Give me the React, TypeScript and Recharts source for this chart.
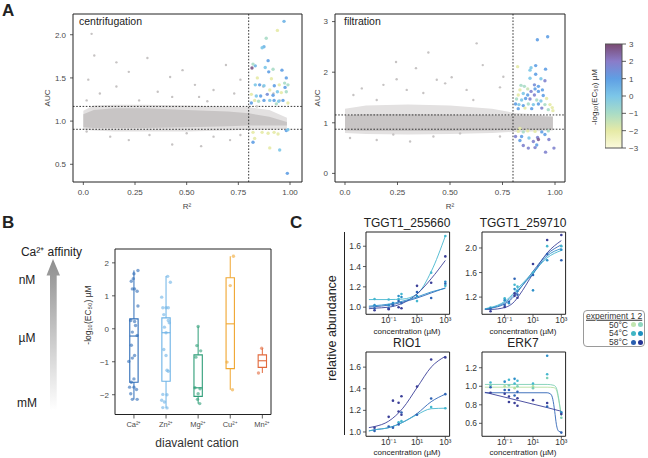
import React from 'react';
import {
  Area,
  ComposedChart,
  Line,
  ReferenceArea,
  ReferenceLine,
  Scatter,
  XAxis,
  YAxis,
} from 'recharts';

const FONT = "'Liberation Sans', Arial, Helvetica, sans-serif";

// ---------- panel A : AUC vs R² ----------
// [x, y, -log10(EC50)]
const centColored = [
  [0.971, 2.155, 0.5], [0.939, 2.05, -2], [0.885, 1.96, -1], [0.874, 1.86, 0.5], [0.865, 1.85, 0],
  [0.894, 1.7, 1], [0.832, 1.64, 0.5], [0.821, 1.66, -1], [0.816, 1.615, 2.8], [0.88, 1.62, 0],
  [0.897, 1.57, 1], [0.918, 1.6, -1], [0.961, 1.59, 1], [0.982, 1.5, 1], [0.842, 1.5, -2],
  [0.91, 1.49, -2], [0.974, 1.44, -1], [0.832, 1.42, 0], [0.853, 1.42, 1], [0.874, 1.41, 0],
  [0.924, 1.41, 1], [0.948, 1.42, -2], [0.976, 1.39, 1], [0.99, 1.42, -1], [0.902, 1.36, -2],
  [0.939, 1.34, 0], [0.813, 1.31, -2], [0.837, 1.29, 0], [0.858, 1.29, 1], [0.89, 1.31, 1.5],
  [0.918, 1.3, 1], [0.958, 1.33, -2], [0.982, 1.34, -1], [0.829, 1.24, -2], [0.848, 1.23, -1],
  [0.874, 1.24, 1], [0.902, 1.24, 0], [0.923, 1.24, 1], [0.945, 1.23, 0], [0.966, 1.24, 1],
  [0.813, 1.21, 1], [0.934, 1.2, -1], [0.99, 1.21, -2], [0.821, 0.87, -2], [0.865, 0.87, -2],
  [0.894, 0.86, -2], [0.923, 0.87, -2], [0.942, 0.85, -2], [0.982, 0.89, 1], [0.99, 0.9, 0],
  [0.829, 0.8, -2], [0.821, 0.755, 1], [0.902, 0.69, -2], [0.95, 0.665, 0], [0.987, 0.395, 1],
];

const filtColored = [
  [0.965, 2.7, 1], [0.916, 2.64, 1], [0.822, 2.11, -2], [0.908, 2.13, 1], [0.886, 2.09, 0],
  [0.881, 2.04, 0], [0.955, 2.06, 1], [0.908, 1.96, 1], [0.933, 1.87, 0], [0.952, 1.83, 1.8],
  [0.881, 1.88, 0], [0.838, 1.74, -1], [0.854, 1.72, -1], [0.902, 1.75, 1.5], [0.921, 1.72, 1],
  [0.87, 1.67, -1.5], [0.905, 1.67, 1], [0.833, 1.65, -2], [0.886, 1.62, 1.8], [0.921, 1.62, 1],
  [0.94, 1.65, 1], [0.849, 1.58, 0], [0.87, 1.55, 1], [0.825, 1.55, -2], [0.902, 1.55, 1.8],
  [0.944, 1.54, 1], [0.817, 1.47, -1], [0.841, 1.45, 0], [0.86, 1.48, 1], [0.881, 1.47, 1.8],
  [0.913, 1.45, -1], [0.933, 1.43, 0], [0.96, 1.48, -2], [0.812, 1.37, 1], [0.828, 1.36, 0],
  [0.849, 1.34, 1], [0.873, 1.37, -1], [0.897, 1.36, 0], [0.921, 1.37, 1], [0.952, 1.36, -1],
  [0.976, 1.36, -2], [0.987, 1.3, -2], [0.825, 1.28, 1], [0.857, 1.29, -2], [0.889, 1.28, 1],
  [0.937, 1.29, 1.8], [0.968, 1.26, -1], [0.99, 1.24, -2], [0.825, 0.83, -2], [0.849, 0.82, -1],
  [0.87, 0.84, -2], [0.905, 0.83, -2], [0.937, 0.82, 1], [0.968, 0.84, -1], [0.812, 0.73, 1.8],
  [0.841, 0.73, 1], [0.876, 0.7, 0], [0.917, 0.71, 1.8], [0.952, 0.77, 1], [0.833, 0.65, 1],
  [0.897, 0.63, 1.8], [0.921, 0.67, 2.6], [0.971, 0.67, 1.8], [0.849, 0.55, 1.8], [0.913, 0.56, 1],
  [0.873, 0.5, 1.8], [0.905, 0.51, 1.8], [0.995, 0.5, 1.8], [0.955, 0.42, 1.8], [0.833, 0.89, -2],
];

// sparse grey proteins outside the dense band, [x, y]
const centGrey = [
  [0.04, 2.01], [0.053, 1.76], [0.16, 1.68], [0.31, 1.73], [0.024, 1.48], [0.22, 1.57], [0.48, 1.59],
  [0.42, 1.51], [0.54, 1.42], [0.69, 1.65], [0.76, 1.48], [0.56, 1.28], [0.36, 1.34], [0.08, 1.32],
  [0.016, 1.24], [0.27, 1.24], [0.63, 1.36], [0.73, 1.32], [0.43, 1.28], [0.16, 1.4], [0.22, 0.78],
  [0.43, 0.73], [0.57, 0.71], [0.13, 0.82], [0.71, 0.78], [0.016, 0.88], [0.32, 0.84], [0.63, 0.82],
  [0.76, 0.84], [0.5, 0.86], [0.84, 1.17], [0.92, 1.32], [0.87, 1.4], [0.95, 1.24], [0.6, 1.23],
];

const filtGrey = [
  [0.627, 2.57], [0.397, 2.39], [0.243, 2.2], [0.338, 2.08], [0.656, 2.14], [0.508, 1.9], [0.437, 1.85],
  [0.246, 1.86], [0.294, 1.65], [0.477, 1.78], [0.754, 1.91], [0.738, 1.7], [0.579, 1.65], [0.08, 1.68],
  [0.04, 1.55], [0.183, 1.75], [0.373, 1.59], [0.151, 1.45], [0.611, 1.45], [0.151, 0.66], [0.31, 0.63],
  [0.421, 0.73], [0.024, 0.7], [0.548, 0.79], [0.738, 0.73], [0.23, 0.77],
];

// dense band of unaffected proteins: [x, lowHalo, highHalo, lowCore, highCore]
const centBand = [
  [0, 0.9, 1.12, 0.93, 1.08], [0.05, 0.89, 1.18, 0.92, 1.13], [0.15, 0.88, 1.19, 0.92, 1.15],
  [0.3, 0.88, 1.19, 0.92, 1.15], [0.5, 0.88, 1.18, 0.93, 1.13], [0.7, 0.89, 1.17, 0.94, 1.11],
  [0.8, 0.9, 1.16, 0.95, 1.09], [0.9, 0.9, 1.13, 0.95, 1.05], [0.985, 0.91, 1.04, 0.95, 0.99],
];
const filtBand = [
  [0, 0.8, 1.28, 0.85, 1.15], [0.1, 0.78, 1.34, 0.84, 1.17], [0.3, 0.77, 1.36, 0.84, 1.17],
  [0.5, 0.78, 1.34, 0.84, 1.16], [0.7, 0.8, 1.28, 0.85, 1.15], [0.8, 0.82, 1.2, 0.86, 1.14],
  [0.9, 0.83, 1.17, 0.86, 1.14], [0.99, 0.85, 1.13, 0.87, 1.12],
];

const r2Ticks = [0, 0.25, 0.5, 0.75, 1];
const cbTicks = [-3, -2, -1, 0, 1, 2, 3];
const cbStops: [number, string][] = [
  [-3, '#fbfadc'], [-2, '#e6eaa6'], [-1, '#a9dcc6'], [0, '#7cc6e8'],
  [1, '#5f9fe4'], [2, '#8a7cc9'], [3, '#7a4a72'],
];

// ---------- panel B : boxplots ----------
const cations = ['Ca²⁺', 'Zn²⁺', 'Mg²⁺', 'Cu²⁺', 'Mn²⁺'];
const cationColors = ['#2f6db8', '#6cb2e6', '#2f9e78', '#f0a630', '#e2693c'];
// [min, q1, median, q3, max]
const cationBoxes = [
  [-2.14, -1.62, -0.22, 0.3, 1.77],
  [-2.4, -1.59, -0.12, 0.33, 1.6],
  [-2.27, -2.05, -1.79, -0.79, 0.07],
  [-1.85, -1.21, 0.15, 1.55, 2.2],
  [-1.34, -1.17, -0.97, -0.79, -0.59],
];
// [jitter offset, value]
const caPts = [
  [0.125, 1.77], [0, 1.67], [-0.083, 1.44], [-0.02, 1.52], [-0.05, 1.21], [0.02, 1.21], [0.1, 1.14],
  [0.125, 0.69], [-0.1, 0.25], [0.02, 0.22], [0.05, 0.1], [-0.05, -0.1], [0.1, -0.2], [-0.08, -0.5],
  [0.02, -0.81], [-0.16, -0.99], [-0.05, -0.89], [0, -1.52], [-0.08, -1.62], [-0.135, -1.77],
  [0, -1.77], [0.08, -1.84], [-0.1, -1.97], [-0.05, -2.14], [0.1, -2.14],
];
const znPts = [
  [0.05, 1.59], [0.135, 1.41], [-0.135, 0.96], [-0.1, 0.64], [0, 0.64], [0.07, 0.64], [-0.07, 0.43],
  [0.07, 0.25], [0.1, 0.18], [-0.05, 0.05], [0, -0.12], [-0.07, -0.63], [0, -0.81], [0.03, -1.26],
  [0.07, -1.29], [-0.1, -1.99], [0.03, -2.0], [-0.135, -2.17], [-0.05, -2.22], [-0.1, -2.39], [0.03, -2.4],
];
const mgPts = [
  [0, 0.07], [-0.04, -0.51], [0.08, -0.67], [-0.07, -0.86], [-0.1, -1.79], [0.06, -1.82], [0, -1.97],
  [-0.02, -2.14], [0.05, -2.27],
];
const cuPts = [[0.1, 2.2], [0, 1.31], [-0.1, -1.01], [0.07, -1.85]];
const mnPts = [[-0.02, -0.59], [-0.12, -1.34]];
const cationPts = [caPts, znPts, mgPts, cuPts, mnPts];

// ---------- panel C : dose response ----------
const seriesColors: Record<string, string> = {
  a50: '#b5dfa0', b50: '#7dcfb6', a54: '#45b7cf', b54: '#2c8fc9', a58: '#2f64b5', b58: '#3b3f98',
};
const concTicks = [0.1, 10, 1000];

const tgg255Pts: [number, number, string][] = [
  [0.01, 1.08, 'a54'], [0.01, 1.02, 'b54'], [0.01, 0.99, 'a58'], [0.01, 0.97, 'b58'],
  [0.1, 1.075, 'a54'], [0.1, 1.02, 'b54'], [0.1, 0.99, 'a58'], [0.1, 0.98, 'b58'],
  [0.2, 1.04, 'b54'], [0.2, 1.02, 'a58'],
  [0.5, 1.11, 'b54'], [0.5, 1.08, 'a54'], [0.5, 1.06, 'a58'], [0.5, 1.0, 'b58'],
  [0.8, 1.13, 'a54'], [0.8, 1.1, 'b54'], [0.8, 1.04, 'a58'], [0.8, 0.99, 'b58'],
  [10, 1.21, 'b58'], [10, 1.15, 'a58'], [10, 1.11, 'b54'], [10, 1.06, 'a54'],
  [100, 1.34, 'a54'], [100, 1.24, 'b58'], [100, 1.09, 'a58'],
  [1000, 1.7, 'a54'], [1000, 1.5, 'b58'], [1000, 1.25, 'b54'], [1000, 1.23, 'a58'], [1000, 1.21, 'a54'],
];
const tgg255Fits: { s: string; pts: number[][] }[] = [
  { s: 'a54', pts: [[0.004, 1.075], [0.01, 1.075], [0.1, 1.075], [1, 1.08], [10, 1.13], [100, 1.35], [1000, 1.7]] },
  { s: 'b58', pts: [[0.004, 0.985], [0.01, 0.99], [0.1, 1.0], [1, 1.04], [10, 1.13], [100, 1.28], [1000, 1.46]] },
  { s: 'a58', pts: [[0.004, 1.0], [0.01, 1.005], [0.1, 1.02], [1, 1.05], [10, 1.09], [100, 1.14], [1000, 1.19]] },
  { s: 'b54', pts: [[0.004, 1.01], [0.01, 1.015], [0.1, 1.03], [1, 1.06], [10, 1.1], [100, 1.15], [1000, 1.185]] },
];

const tgg259Pts: [number, number, string][] = [
  [0.01, 1.03, 'a54'], [0.01, 1.01, 'a58'], [0.01, 0.97, 'b58'],
  [0.1, 1.18, 'a54'], [0.1, 1.15, 'b54'], [0.1, 1.07, 'a58'], [0.1, 1.04, 'b58'],
  [0.2, 1.12, 'a58'], [0.2, 1.1, 'b54'],
  [0.5, 1.5, 'a58'], [0.5, 1.4, 'a54'], [0.5, 1.33, 'b54'], [0.5, 1.26, 'b58'], [0.5, 1.22, 'b58'],
  [0.8, 1.37, 'a54'], [0.8, 1.3, 'b54'], [0.8, 1.24, 'a58'], [0.8, 1.19, 'b58'],
  [10, 1.74, 'b58'], [10, 1.6, 'a54'], [10, 1.56, 'a58'], [10, 1.31, 'b54'],
  [100, 2.13, 'b58'], [100, 2.03, 'a54'], [100, 1.9, 'a58'], [100, 1.8, 'b54'],
  [1000, 2.21, 'b58'], [1000, 2.03, 'a54'], [1000, 1.97, 'b54'], [1000, 1.8, 'a58'],
];
const tgg259Fits: { s: string; pts: number[][] }[] = [
  { s: 'b58', pts: [[0.004, 1.0], [0.01, 1.0], [0.1, 1.03], [0.5, 1.13], [1, 1.22], [10, 1.58], [100, 1.92], [1000, 2.12]] },
  { s: 'a58', pts: [[0.004, 1.01], [0.01, 1.02], [0.1, 1.09], [0.5, 1.22], [1, 1.31], [10, 1.62], [100, 1.9], [1000, 2.05]] },
  { s: 'a54', pts: [[0.004, 1.01], [0.01, 1.03], [0.1, 1.13], [0.5, 1.28], [1, 1.36], [10, 1.6], [100, 1.84], [1000, 1.96]] },
  { s: 'b54', pts: [[0.004, 1.0], [0.01, 1.02], [0.1, 1.11], [0.5, 1.25], [1, 1.33], [10, 1.58], [100, 1.87], [1000, 1.99]] },
];

const rio1Pts: [number, number, string][] = [
  [0.01, 1.04, 'b58'], [0.01, 1.01, 'a58'], [0.1, 1.14, 'b58'], [0.1, 1.05, 'a58'],
  [0.2, 1.29, 'b58'], [0.2, 1.04, 'a58'],
  [0.5, 1.27, 'b58'], [0.5, 1.09, 'a54'], [0.5, 1.07, 'a58'], [0.5, 1.19, 'b58'],
  [0.8, 1.33, 'b58'], [0.8, 1.18, 'a58'], [0.8, 1.1, 'a54'], [0.8, 1.16, 'b58'],
  [10, 1.42, 'b58'], [10, 1.16, 'a58'],
  [100, 1.67, 'b58'], [100, 1.31, 'a58'], [100, 1.23, 'a54'],
  [1000, 1.69, 'b58'], [1000, 1.35, 'a58'], [1000, 1.22, 'a54'],
];
const rio1Fits: { s: string; pts: number[][] }[] = [
  { s: 'b58', pts: [[0.004, 1.04], [0.01, 1.05], [0.1, 1.1], [1, 1.22], [10, 1.41], [100, 1.6], [1000, 1.7]] },
  { s: 'a58', pts: [[0.004, 1.01], [0.01, 1.02], [0.1, 1.04], [1, 1.09], [10, 1.17], [100, 1.28], [1000, 1.35]] },
  { s: 'a54', pts: [[0.004, 1.01], [0.01, 1.02], [0.1, 1.04], [1, 1.09], [10, 1.16], [100, 1.215], [1000, 1.22]] },
];

const erk7Pts: [number, number, string][] = [
  [0.01, 1.04, 'a54'], [0.01, 1.01, 'b50'], [0.01, 0.99, 'a58'], [0.01, 0.93, 'b58'],
  [0.1, 1.05, 'b54'], [0.1, 1.0, 'a50'], [0.1, 0.96, 'a58'], [0.1, 0.92, 'b58'],
  [0.2, 1.07, 'a54'], [0.2, 1.01, 'b50'], [0.2, 0.96, 'a58'], [0.2, 0.89, 'b58'], [0.2, 0.83, 'b58'],
  [0.5, 1.08, 'b54'], [0.5, 1.03, 'a54'], [0.5, 0.98, 'a50'], [0.5, 0.9, 'a58'], [0.5, 0.82, 'b58'],
  [0.8, 1.06, 'a54'], [0.8, 1.0, 'b50'], [0.8, 0.94, 'a58'], [0.8, 0.87, 'b58'], [0.8, 0.79, 'b58'],
  [10, 1.03, 'a54'], [10, 1.0, 'a50'], [10, 0.98, 'b50'], [10, 0.85, 'b58'],
  [100, 1.33, 'b54'], [100, 1.13, 'a54'], [100, 1.09, 'b50'], [100, 0.82, 'b58'], [100, 0.78, 'a58'],
  [1000, 0.72, 'b54'], [1000, 0.7, 'b58'], [1000, 0.66, 'b50'], [1000, 0.5, 'a58'],
];
const erk7Fits: { s: string; pts: number[][] }[] = [
  { s: 'a50', pts: [[0.004, 0.99], [0.01, 0.99], [1, 0.99], [100, 0.99], [300, 0.985], [450, 0.96], [600, 0.88], [800, 0.77], [1000, 0.68]] },
  { s: 'b50', pts: [[0.004, 1.02], [0.01, 1.02], [1, 1.02], [100, 1.02], [300, 1.01], [450, 0.98], [600, 0.9], [800, 0.78], [1000, 0.68]] },
  { s: 'a58', pts: [[0.004, 0.93], [0.01, 0.93], [1, 0.93], [100, 0.93], [180, 0.915], [250, 0.86], [340, 0.73], [445, 0.59], [650, 0.515], [1000, 0.505]] },
  { s: 'b58', pts: [[0.004, 0.935], [0.01, 0.92], [1, 0.845], [100, 0.77], [1000, 0.73]] },
];

const legendRows = [
  { label: '50°C', c1: '#c2e6b0', c2: '#8ed6bf' },
  { label: '54°C', c1: '#41b6c4', c2: '#1d91c0' },
  { label: '58°C', c1: '#2a5fb0', c2: '#253494' },
];

// ---------- helpers ----------
function hexRgb(h: string) {
  const n = parseInt(h.slice(1), 16);
  return [(n >> 16) & 255, (n >> 8) & 255, n & 255];
}
function colorFor(v: number) {
  const c = Math.max(-3, Math.min(3, v));
  for (let i = 0; i < cbStops.length - 1; i++) {
    const [v0, h0] = cbStops[i];
    const [v1, h1] = cbStops[i + 1];
    if (c >= v0 && c <= v1) {
      const t = (c - v0) / (v1 - v0);
      const a = hexRgb(h0);
      const b = hexRgb(h1);
      return `rgb(${a.map((x, k) => Math.round(x + (b[k] - x) * t)).join(',')})`;
    }
  }
  return cbStops[0][1];
}
const minus = (v: number) => (v < 0 ? `−${Math.abs(v)}` : `${v}`);
const supMap: Record<string, string> = { '-': '⁻', '0': '⁰', '1': '¹', '2': '²', '3': '³' };
const powTen = (v: number) => `10${String(Math.round(Math.log10(v))).split('').map((c) => supMap[c]).join('')}`;

const tickA = { fontSize: 8, fill: '#4a4a4a', fontFamily: FONT };
const tickC = { fontSize: 8.5, fill: '#333', fontFamily: FONT };
const tickLine = { stroke: '#333', strokeWidth: 0.8 };
const dotted = { stroke: '#222', strokeWidth: 0.9, strokeDasharray: '1.6 1.6' };

type Frame = { L: number; T: number; W: number; H: number };

function Plot({ f, yw, xh, data, children }: { f: Frame; yw: number; xh: number; data?: any[]; children: React.ReactNode }) {
  return (
    <div style={{ position: 'absolute', left: f.L - yw, top: f.T - 2 }}>
      <ComposedChart
        width={yw + f.W + 4}
        height={f.H + xh + 2}
        data={data}
        margin={{ top: 2, right: 4, left: 0, bottom: 0 }}
      >
        {children}
      </ComposedChart>
    </div>
  );
}

function Txt({ x, y, size, children, rotate, weight, color, anchor }: {
  x: number; y: number; size: number; children: React.ReactNode; rotate?: boolean; weight?: number; color?: string; anchor?: 'left' | 'center' | 'right';
}) {
  const tx = anchor === 'left' ? '0' : anchor === 'right' ? '-100%' : '-50%';
  return (
    <div
      style={{
        position: 'absolute', left: x, top: y, fontSize: size, fontWeight: weight ?? 400, color: color ?? '#222',
        whiteSpace: 'nowrap', lineHeight: 1, transform: `translate(${tx}, -50%)${rotate ? ' rotate(-90deg)' : ''}`,
        transformOrigin: rotate ? 'center' : undefined,
      }}
    >
      {children}
    </div>
  );
}

const greyDot = (p: any) => <circle cx={p.cx} cy={p.cy} r={1.2} fill="#c6c3c3" />;
const ecDot = (p: any) => <circle cx={p.cx} cy={p.cy} r={1.7} fill={colorFor(p.payload.c)} fillOpacity={0.9} />;

function AucPanel({ f, xDom, yDom, yTicks, yFmt, band, grey, colored, hi, lo }: any) {
  const bandData = band.map((b: number[]) => ({ x: b[0], halo: [b[1], b[2]], core: [b[3], b[4]] }));
  return (
    <Plot f={f} yw={30} xh={22} data={bandData}>
      <XAxis dataKey="x" type="number" domain={xDom} allowDataOverflow ticks={r2Ticks} interval={0}
        tickFormatter={(v: number) => (v === 0 ? '0.0' : v.toFixed(2))} axisLine={false} tickLine={tickLine}
        tickSize={3} tickMargin={4} tick={tickA} height={22} />
      <YAxis dataKey="y" type="number" domain={yDom} allowDataOverflow ticks={yTicks} interval={0}
        tickFormatter={yFmt} axisLine={false} tickLine={tickLine} tickSize={3} tickMargin={4} tick={tickA} width={30} />
      <Area dataKey="halo" type="linear" stroke="none" fill="#e3e1e1" fillOpacity={1} isAnimationActive={false} />
      <Area dataKey="core" type="linear" stroke="none" fill="#c8c5c5" fillOpacity={1} isAnimationActive={false} />
      <Scatter data={grey.map(([x, y]: number[]) => ({ x, y }))} shape={greyDot} isAnimationActive={false} />
      <ReferenceLine y={hi} {...dotted} />
      <ReferenceLine y={lo} {...dotted} />
      <ReferenceLine x={0.8} {...dotted} />
      <Scatter data={colored.map(([x, y, c]: number[]) => ({ x, y, c }))} shape={ecDot} isAnimationActive={false} />
      <ReferenceArea x1={xDom[0]} x2={xDom[1]} y1={yDom[0]} y2={yDom[1]} fill="none" stroke="#222" strokeWidth={1} ifOverflow="visible" />
    </Plot>
  );
}

function DosePanel({ f, yDom, yTicks, pts, fits }: any) {
  const xDom = [0.0025, 2000];
  return (
    <Plot f={f} yw={22} xh={12}>
      <XAxis dataKey="x" type="number" scale="log" domain={xDom} allowDataOverflow ticks={concTicks} interval={0}
        tickFormatter={powTen} axisLine={false} tickLine={tickLine} tickSize={2.5} tickMargin={0} tick={tickC} height={12} />
      <YAxis dataKey="y" type="number" domain={yDom} allowDataOverflow ticks={yTicks} interval={0}
        tickFormatter={(v: number) => v.toFixed(1)} axisLine={false} tickLine={tickLine} tickSize={3} tickMargin={2} tick={tickC} width={22} />
      {fits.map((fit: any, i: number) => (
        <Line key={i} data={fit.pts.map(([x, y]: number[]) => ({ x, y }))} dataKey="y" type="monotone"
          stroke={seriesColors[fit.s]} strokeWidth={0.9} dot={false} isAnimationActive={false} />
      ))}
      <Scatter data={pts.map(([x, y, s]: any[]) => ({ x, y, s }))} isAnimationActive={false}
        shape={(p: any) => <circle cx={p.cx} cy={p.cy} r={1.3} fill={seriesColors[p.payload.s]} />} />
      <ReferenceArea x1={xDom[0]} x2={xDom[1]} y1={yDom[0]} y2={yDom[1]} fill="none" stroke="#222" strokeWidth={1} ifOverflow="visible" />
    </Plot>
  );
}

export default function App() {
  const A1: Frame = { L: 73, T: 14, W: 229, H: 168 };
  const A2: Frame = { L: 335, T: 14, W: 230, H: 168 };
  const CB: Frame = { L: 605, T: 44, W: 17, H: 104 };
  const B: Frame = { L: 114.5, T: 248.5, W: 156, H: 165.5 };
  const C1: Frame = { L: 365.7, T: 231.7, W: 83.6, H: 82.3 };
  const C2: Frame = { L: 481.7, T: 231.7, W: 83.6, H: 82.3 };
  const C3: Frame = { L: 365.7, T: 351.7, W: 83.6, H: 84.3 };
  const C4: Frame = { L: 481.7, T: 351.7, W: 83.6, H: 84.3 };
  const bDom = [-2.6, 2.42];
  const cbRange = [{ x: 0, y: -3 }, { x: 1, y: 3 }];

  return (
    <div style={{ position: 'absolute', left: 0, top: 0, width: 648, height: 458, background: '#fff', fontFamily: FONT, overflow: 'hidden' }}>
      {/* ---- A ---- */}
      <Txt x={2} y={10} size={17} weight={700} anchor="left">A</Txt>
      <AucPanel f={A1} xDom={[-0.05, 1.058]} yDom={[0.295, 2.24]} yTicks={[0.5, 1, 1.5, 2]}
        yFmt={(v: number) => v.toFixed(1)} band={centBand} grey={centGrey} colored={centColored} hi={1.17} lo={0.905} />
      <AucPanel f={A2} xDom={[-0.0476, 1.0476]} yDom={[-0.17, 3.15]} yTicks={[0, 1, 2, 3]}
        yFmt={(v: number) => `${v}`} band={filtBand} grey={filtGrey} colored={filtColored} hi={1.155} lo={0.873} />
      <Txt x={79} y={21} size={10.5} anchor="left">centrifugation</Txt>
      <Txt x={344} y={21} size={10.5} anchor="left">filtration</Txt>
      <Txt x={48} y={98} size={8} rotate color="#444">AUC</Txt>
      <Txt x={318} y={98} size={8} rotate color="#444">AUC</Txt>
      <Txt x={187} y={207} size={8} color="#444">R²</Txt>
      <Txt x={450} y={207} size={8} color="#444">R²</Txt>

      {/* colour bar */}
      <div style={{ position: 'absolute', left: CB.L, top: CB.T - 8 }}>
        <ComposedChart width={CB.W + 22} height={CB.H + 16} data={cbRange} margin={{ top: 8, right: 0, left: 0, bottom: 8 }}>
          <defs>
            <linearGradient id="cbar" x1="0" y1="0" x2="0" y2="1">
              {cbStops.slice().reverse().map(([v, h], i) => (
                <stop key={v} offset={`${(i / (cbStops.length - 1)) * 100}%`} stopColor={h} />
              ))}
            </linearGradient>
          </defs>
          <XAxis type="number" dataKey="x" domain={[0, 1]} hide />
          <YAxis type="number" dataKey="y" orientation="right" domain={[-3, 3]} ticks={cbTicks} interval={0} tickFormatter={minus}
            axisLine={false} tickLine={tickLine} tickSize={4} tickMargin={3} tick={tickA} width={22} />
          <Scatter data={cbRange} shape={() => <g />} isAnimationActive={false} />
          <ReferenceArea x1={0} x2={1} y1={-3} y2={3} fill="url(#cbar)" fillOpacity={1} stroke="#555" strokeWidth={1} ifOverflow="visible" />
        </ComposedChart>
      </div>
      <Txt x={595} y={97} size={8} rotate color="#333">-log₁₀(EC₅₀) µM</Txt>

      {/* ---- B ---- */}
      <Txt x={2} y={222} size={17} weight={700} anchor="left">B</Txt>
      <svg style={{ position: 'absolute', left: 40, top: 255 }} width={26} height={160}>
        <defs>
          <linearGradient id="affinity" x1="0" y1="0" x2="0" y2="1">
            <stop offset="0%" stopColor="#8e8e8e" />
            <stop offset="100%" stopColor="#ffffff" />
          </linearGradient>
        </defs>
        <polygon points="13,4 6.5,20.5 10,20.5 10,155 16.7,155 16.7,20.5 20,20.5" fill="url(#affinity)" />
      </svg>
      <Txt x={51.5} y={252} size={12}>Ca²⁺ affinity</Txt>
      <Txt x={27} y={280} size={12}>nM</Txt>
      <Txt x={27} y={338} size={12}>µM</Txt>
      <Txt x={27} y={403} size={12}>mM</Txt>
      <Plot f={B} yw={20} xh={18}>
        <XAxis dataKey="x" type="number" domain={[0.41, 5.27]} allowDataOverflow ticks={[1, 2, 3, 4, 5]} interval={0}
          tickFormatter={(v: number) => cations[v - 1]} axisLine={false} tickLine={tickLine} tickSize={4} tickMargin={3}
          tick={{ ...tickA, fontSize: 7.5 }} height={18} />
        <YAxis dataKey="y" type="number" domain={bDom} allowDataOverflow ticks={[-2, -1, 0, 1, 2]} interval={0}
          tickFormatter={minus} axisLine={false} tickLine={tickLine} tickSize={3} tickMargin={3} tick={tickA} width={20} />
        {cationPts.map((pts, i) => (
          <Scatter key={`p${i}`} data={pts.map(([dx, y]) => ({ x: i + 1 + dx, y }))} isAnimationActive={false}
            shape={(p: any) => <circle cx={p.cx} cy={p.cy} r={1.7} fill={cationColors[i]} fillOpacity={0.6} />} />
        ))}
        {cationBoxes.map(([mn, q1, med, q3, mx], i) => (
          <React.Fragment key={`b${i}`}>
            <ReferenceLine segment={[{ x: i + 1, y: q3 }, { x: i + 1, y: mx }]} stroke={cationColors[i]} strokeWidth={1} ifOverflow="visible" />
            <ReferenceLine segment={[{ x: i + 1, y: mn }, { x: i + 1, y: q1 }]} stroke={cationColors[i]} strokeWidth={1} ifOverflow="visible" />
            <ReferenceArea x1={i + 0.87} x2={i + 1.13} y1={q1} y2={q3} fill="none" stroke={cationColors[i]} strokeWidth={1.1} ifOverflow="visible" />
            <ReferenceLine segment={[{ x: i + 0.87, y: med }, { x: i + 1.13, y: med }]} stroke={cationColors[i]} strokeWidth={1.1} ifOverflow="visible" />
          </React.Fragment>
        ))}
        <ReferenceArea x1={0.41} x2={5.27} y1={bDom[0]} y2={bDom[1]} fill="none" stroke="#222" strokeWidth={1} ifOverflow="visible" />
      </Plot>
      <Txt x={88} y={315} size={8.5} rotate color="#333">-log₁₀(EC₅₀) µM</Txt>
      <Txt x={197} y={443} size={12} color="#333">diavalent cation</Txt>

      {/* ---- C ---- */}
      <Txt x={290} y={222} size={17} weight={700} anchor="left">C</Txt>
      <DosePanel f={C1} yDom={[0.93, 1.74]} yTicks={[1.0, 1.2, 1.4, 1.6]} pts={tgg255Pts} fits={tgg255Fits} />
      <DosePanel f={C2} yDom={[0.92, 2.26]} yTicks={[1.2, 1.6, 2.0]} pts={tgg259Pts} fits={tgg259Fits} />
      <DosePanel f={C3} yDom={[0.96, 1.74]} yTicks={[1.0, 1.2, 1.4, 1.6]} pts={rio1Pts} fits={rio1Fits} />
      <DosePanel f={C4} yDom={[0.46, 1.37]} yTicks={[0.6, 0.8, 1.0, 1.2]} pts={erk7Pts} fits={erk7Fits} />
      <Txt x={407} y={223} size={12}>TGGT1_255660</Txt>
      <Txt x={523} y={223} size={12}>TGGT1_259710</Txt>
      <Txt x={407} y={343} size={12}>RIO1</Txt>
      <Txt x={523} y={343} size={12}>ERK7</Txt>
      <Txt x={407} y={331.5} size={8}>concentration (µM)</Txt>
      <Txt x={523} y={331.5} size={8}>concentration (µM)</Txt>
      <Txt x={407} y={452.5} size={8}>concentration (µM)</Txt>
      <Txt x={523} y={452.5} size={8}>concentration (µM)</Txt>
      <Txt x={332} y={328} size={12.5} rotate>relative abundance</Txt>
      <div style={{ position: 'absolute', left: 344, top: 231.7, width: 1, height: 203, background: '#222' }} />

      {/* legend */}
      <div style={{ position: 'absolute', left: 583, top: 310, width: 62, height: 37, border: '1px solid #9a9a9a', borderRadius: 4, boxSizing: 'border-box' }} />
      <Txt x={586} y={316} size={8.5} anchor="left" color="#333">
        <span style={{ textDecoration: 'underline' }}>experiment 1 2</span>
      </Txt>
      {legendRows.map((r, i) => (
        <React.Fragment key={r.label}>
          <Txt x={628} y={324.5 + i * 8.8} size={8.5} anchor="right" color="#333">{r.label}</Txt>
          <div style={{ position: 'absolute', left: 630.5, top: 322 + i * 8.8, width: 5, height: 5, borderRadius: 3, background: r.c1 }} />
          <div style={{ position: 'absolute', left: 637.5, top: 322 + i * 8.8, width: 5, height: 5, borderRadius: 3, background: r.c2 }} />
        </React.Fragment>
      ))}
    </div>
  );
}
